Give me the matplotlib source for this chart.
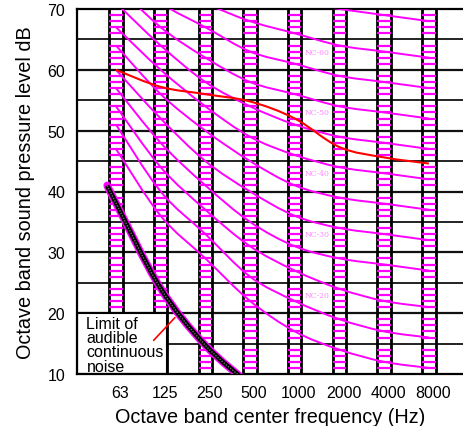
import numpy as np
import matplotlib
matplotlib.use("Agg")
import matplotlib.pyplot as plt
from matplotlib.path import Path
from matplotlib.patches import PathPatch, Rectangle
from matplotlib.transforms import ScaledTranslation

plt.rcParams["font.family"] = ["Liberation Sans", "DejaVu Sans"]

# octave bands (Hz)
bands = ["63", "125", "250", "500", "1000", "2000", "4000", "8000"]

# NC curves, level (dB) per octave band
nc_names = [15, 20, 25, 30, 35, 40, 45, 50, 55, 60, 65, 70]
nc_15 = [47, 36, 29, 22, 17, 14, 12, 11]
nc_20 = [51, 40, 33, 26, 22, 19, 17, 16]
nc_25 = [54, 44, 37, 31, 27, 24, 22, 21]
nc_30 = [57, 48, 41, 35, 31, 29, 28, 27]
nc_35 = [60, 52, 45, 40, 36, 34, 33, 32]
nc_40 = [64, 56, 50, 45, 41, 39, 38, 37]
nc_45 = [67, 60, 54, 49, 46, 44, 43, 42]
nc_50 = [71, 64, 58, 54, 51, 49, 48, 47]
nc_55 = [74, 67, 62, 58, 56, 54, 53, 52]
nc_60 = [77, 71, 67, 63, 61, 59, 58, 57]
nc_65 = [80, 75, 71, 68, 66, 64, 63, 62]
nc_70 = [83, 79, 75, 72, 71, 70, 69, 68]
nc_curves = [nc_15, nc_20, nc_25, nc_30, nc_35, nc_40,
             nc_45, nc_50, nc_55, nc_60, nc_65, nc_70]

# labelled curves and where the label sits (dB)
nc_label_names = ["NC-60", "NC-50", "NC-40", "NC-30", "NC-20"]
nc_label_levels = [63, 53, 43, 33, 23]

# measured spectrum (red)
measured = [60, 57.2, 56, 54.8, 52, 47.3, 45.6, 44.6]

# limit of audible continuous noise
limit_freq = [55, 63, 125, 250, 500]
limit_level = [41, 38.1, 24.2, 14.8, 8.3]


def smooth_path(xs, ys):
    # Catmull-Rom through the points, as cubic Bezier segments
    n = len(xs)
    verts = [(xs[0], ys[0])]
    codes = [Path.MOVETO]
    for i in range(n - 1):
        a = max(i - 1, 0)
        d = min(i + 2, n - 1)
        c1 = (xs[i] + (xs[i + 1] - xs[a]) / 6, ys[i] + (ys[i + 1] - ys[a]) / 6)
        c2 = (xs[i + 1] - (xs[d] - xs[i]) / 6,
              ys[i + 1] - (ys[d] - ys[i]) / 6)
        verts += [c1, c2, (xs[i + 1], ys[i + 1])]
        codes += [Path.CURVE4] * 3
    return Path(verts, codes)


def main():
    fig = plt.figure(figsize=(4.63, 4.27), dpi=100)
    ax = fig.add_axes([77 / 463, 52 / 427, 386 / 463, 365 / 427])
    ax.set_xlim(-0.872, 7.763)
    ax.set_ylim(10, 70)

    x = np.arange(len(bands))
    half = 0.15
    magenta = "#ff00ff"

    # horizontal grid
    for lvl in range(15, 70, 5):
        ax.axhline(lvl, color="#111111", lw=1.6 if lvl % 10 == 0 else 1.3,
                   zorder=1)

    # band ladders
    ladder = [l for l in range(11, 70) if l % 5 != 0]
    for xi in x:
        ax.axvline(xi - half, color="black", lw=2, zorder=1.5)
        ax.axvline(xi + half, color="black", lw=2, zorder=1.5)
        ax.hlines(ladder, xi - half, xi + half, color=magenta, lw=1.6,
                  zorder=2)

    # NC curves
    for lv in nc_curves:
        ax.add_patch(PathPatch(smooth_path(x, lv), fc="none", ec=magenta,
                               lw=1.4, zorder=4))
    for name, lvl in zip(nc_label_names, nc_label_levels):
        ax.text(4 + 0.21, lvl, name, fontsize=5.5, color="#ff88ff",
                family="DejaVu Serif", va="center", ha="left", zorder=4)

    # measured spectrum
    ax.add_patch(PathPatch(smooth_path(x, measured), fc="none", ec="red",
                           lw=1.5, zorder=5))

    # text box in the lower left corner
    ax.add_patch(Rectangle((-0.872, 10), 1 + half + 0.872, 10, fc="white",
                           ec="black", lw=1.5, zorder=3))
    ax.text(-0.66, 19.55, "Limit of\naudible\ncontinuous\nnoise",
            fontsize=11.5, va="top", ha="left", linespacing=0.94, zorder=6)
    ax.annotate("", xy=(1.36, 19.6), xytext=(0.8, 15.2),
                arrowprops=dict(arrowstyle="-", color="red", lw=1.2),
                zorder=6)

    # limit of audibility
    lx = np.log2(np.array(limit_freq) / 63.0)
    p = smooth_path(lx, limit_level)
    ax.add_patch(PathPatch(p, fc="none", ec=magenta, lw=5.5, zorder=5,
                           capstyle="round"))
    ax.add_patch(PathPatch(p, fc="none", ec="black", lw=3.4, zorder=5.1))
    ax.add_patch(PathPatch(p, fc="none", ec="#6a6a6a", lw=1.0, ls=(0, (1, 1)),
                           zorder=5.2))

    for side in ["left", "top", "bottom"]:
        ax.spines[side].set_linewidth(1.6)
        ax.spines[side].set_zorder(3.5)
    ax.spines["right"].set_visible(False)

    ax.set_xticks(x)
    ax.set_xticklabels(bands)
    ax.set_yticks(range(10, 71, 10))
    ax.tick_params(axis="both", length=0, labelsize=11.5)
    ax.tick_params(axis="y", pad=8.5)
    ax.tick_params(axis="x", pad=8)
    shift = ScaledTranslation(4 / 100, 0, fig.dpi_scale_trans)
    for lab in ax.get_xticklabels():
        lab.set_transform(lab.get_transform() + shift)

    ax.set_xlabel("Octave band center frequency (Hz)", fontsize=14.3,
                  labelpad=5)
    ax.set_ylabel("Octave band sound pressure level dB", fontsize=14.3,
                  labelpad=9)

    fig.savefig("out.png", dpi=100)


if __name__ == "__main__":
    main()
